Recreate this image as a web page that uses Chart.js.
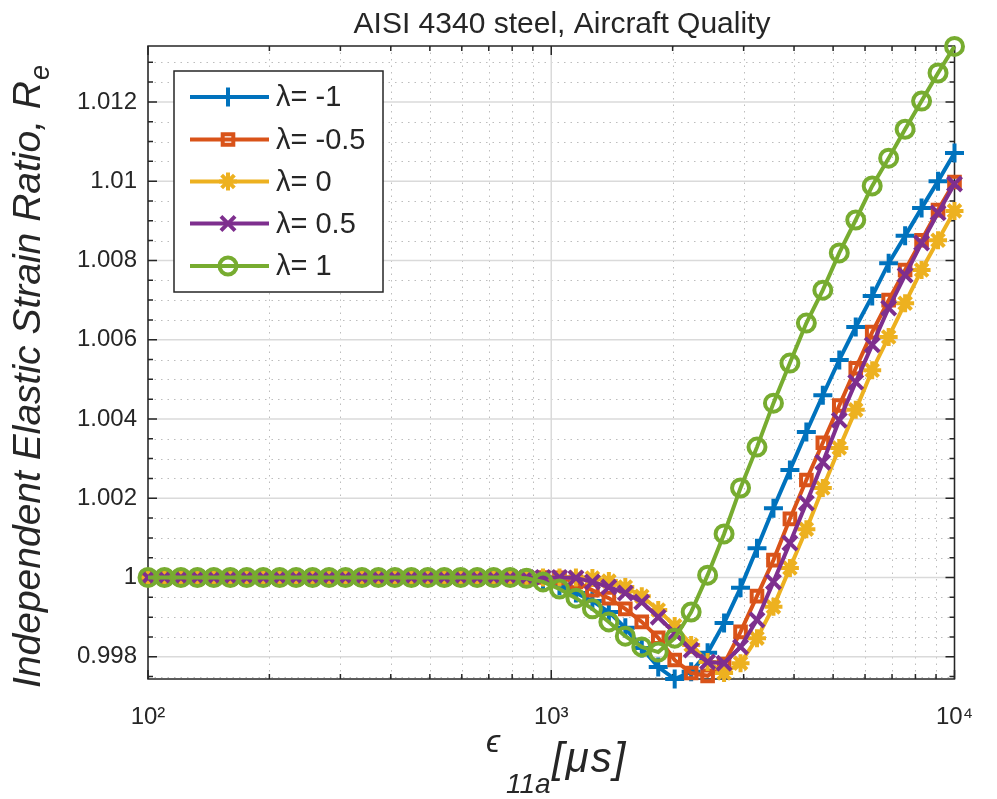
<!DOCTYPE html>
<html>
<head>
<meta charset="utf-8">
<script src="https://cdn.jsdelivr.net/npm/chart.js@4.4.1/dist/chart.umd.min.js"></script>
<style>
  html, body { margin: 0; padding: 0; background: #fff; }
  canvas { display: block; }
</style>
</head>
<body>
<canvas id="chart" width="997" height="799"></canvas>
<script>
// strain amplitude eps_11a [µs], log spaced 1e2 .. 1e4
const strain = [
  100, 109.85, 120.68, 132.57, 145.63, 159.98, 175.75, 193.07, 212.09, 232.99,
  255.95, 281.17, 308.88, 339.32, 372.76, 409.49, 449.84, 494.17, 542.87, 596.36,
  655.13, 719.69, 790.60, 868.51, 954.09, 1048.1, 1151.4, 1264.9, 1389.5, 1526.4,
  1676.8, 1842.1, 2023.6, 2223.0, 2442.1, 2682.7, 2947.1, 3237.5, 3556.5, 3906.9,
  4291.9, 4714.9, 5179.5, 5689.9, 6250.6, 6866.5, 7543.1, 8286.4, 9103.0, 10000
];

// Re for each lambda
const reLamM1 = [
  1, 1, 1, 1, 1, 1, 1, 1, 1, 1, 1, 1, 1, 1, 1, 1, 1, 1, 1, 1, 1, 1, 1,
  0.99999, 0.99991, 0.99979, 0.99961, 0.99941, 0.99913, 0.99873, 0.99822, 0.99774, 0.99744,
  0.99762, 0.99810, 0.99885, 0.99974, 1.00074, 1.00175, 1.00271, 1.00367, 1.00460, 1.00549,
  1.00632, 1.00710, 1.00793, 1.00862, 1.00932, 1.01000, 1.01071
];
const reLamM05 = [
  1, 1, 1, 1, 1, 1, 1, 1, 1, 1, 1, 1, 1, 1, 1, 1, 1, 1, 1, 1, 1, 1, 1, 1, 1,
  0.99999, 0.99989, 0.99968, 0.99948, 0.99921, 0.99888, 0.99848, 0.99792, 0.99759, 0.99752,
  0.99782, 0.99863, 0.99953, 1.00044, 1.00148, 1.00246, 1.00340, 1.00434, 1.00528, 1.00619,
  1.00700, 1.00776, 1.00851, 1.00927, 1.00998
];
const reLam0 = [
  1, 1, 1, 1, 1, 1, 1, 1, 1, 1, 1, 1, 1, 1, 1, 1, 1, 1, 1, 1, 1, 1, 1, 1, 1, 1, 1,
  0.99999, 0.99991, 0.99976, 0.99953, 0.99918, 0.99878, 0.99830, 0.99787, 0.99759, 0.99784,
  0.99847, 0.99926, 1.00024, 1.00122, 1.00226, 1.00327, 1.00423, 1.00523, 1.00607, 1.00692,
  1.00776, 1.00851, 1.00925
];
const reLam05 = [
  1, 1, 1, 1, 1, 1, 1, 1, 1, 1, 1, 1, 1, 1, 1, 1, 1, 1, 1, 1, 1, 1, 1, 1, 1, 1,
  0.99999, 0.99989, 0.99976, 0.99961, 0.99938, 0.99900, 0.99860, 0.99817, 0.99787, 0.99784,
  0.99825, 0.99893, 0.99989, 1.00087, 1.00188, 1.00291, 1.00397, 1.00493, 1.00587, 1.00680,
  1.00763, 1.00844, 1.00920, 1.00993
];
const reLam1 = [
  1, 1, 1, 1, 1, 1, 1, 1, 1, 1, 1, 1, 1, 1, 1, 1, 1, 1, 1, 1, 1, 1, 1,
  0.99998, 0.99989, 0.99971, 0.99948, 0.99921, 0.99888, 0.99852, 0.99825, 0.99812, 0.99847,
  0.99913, 1.00006, 1.00110, 1.00226, 1.00329, 1.00440, 1.00541, 1.00642, 1.00725, 1.00819,
  1.00902, 1.00988, 1.01058, 1.01131, 1.01202, 1.01273, 1.01340
];

const seriesNames = ['λ= -1', 'λ= -0.5', 'λ= 0', 'λ= 0.5', 'λ= 1'];
const seriesValues = [reLamM1, reLamM05, reLam0, reLam05, reLam1];
const seriesColors = ['#0072BD', '#D95319', '#EDB120', '#7E2F8E', '#77AC30'];
const seriesMarkers = ['cross', 'rect', 'star', 'crossRot', 'circle'];
const markerSizes = [9.5, 7.5, 9, 10, 8.5];

const xTicks = [100, 1000, 10000];
const xTickLabels = ['10²', '10³', '10⁴'];
const yTicks = [0.998, 1, 1.002, 1.004, 1.006, 1.008, 1.01, 1.012];
const yTickLabels = ['0.998', '1', '1.002', '1.004', '1.006', '1.008', '1.01', '1.012'];

const FONT = '"Liberation Sans", Arial, "DejaVu Sans", sans-serif';
const AXIS_COLOR = '#262626';

function minorX() {
  const out = [];
  [100, 1000].forEach(d => { for (let k = 2; k <= 9; k++) out.push(d * k); });
  return out;
}
function minorY(scale) {
  const out = [];
  for (let k = Math.ceil(scale.min / 0.0005); k * 0.0005 <= scale.max; k++) {
    if (k % 4 !== 0) out.push(k * 0.0005);
  }
  return out;
}

// grid, box and ticks in matlab style, plus title / labels / legend
const matlabAxes = {
  id: 'matlabAxes',
  beforeDatasetsDraw(chart) {
    const { ctx, chartArea: a, scales: { x, y } } = chart;
    ctx.save();
    // minor grid (dotted)
    ctx.strokeStyle = '#bdbdbd';
    ctx.lineWidth = 1;
    ctx.setLineDash([1.5, 5]);
    ctx.beginPath();
    minorX().forEach(v => {
      const px = Math.round(x.getPixelForValue(v)) + 0.5;
      ctx.moveTo(px, a.top); ctx.lineTo(px, a.bottom);
    });
    minorY(y).forEach(v => {
      const py = Math.round(y.getPixelForValue(v)) + 0.5;
      ctx.moveTo(a.left, py); ctx.lineTo(a.right, py);
    });
    ctx.stroke();
    // major grid
    ctx.setLineDash([]);
    ctx.strokeStyle = '#dadada';
    ctx.lineWidth = 1.5;
    ctx.beginPath();
    xTicks.forEach(v => {
      const px = x.getPixelForValue(v);
      ctx.moveTo(px, a.top); ctx.lineTo(px, a.bottom);
    });
    yTicks.forEach(v => {
      const py = y.getPixelForValue(v);
      ctx.moveTo(a.left, py); ctx.lineTo(a.right, py);
    });
    ctx.stroke();
    // box
    ctx.strokeStyle = AXIS_COLOR;
    ctx.lineWidth = 1.5;
    ctx.strokeRect(a.left, a.top, a.right - a.left, a.bottom - a.top);
    // ticks on all sides, pointing in
    ctx.beginPath();
    const tickX = (v, len) => {
      const px = x.getPixelForValue(v);
      ctx.moveTo(px, a.bottom); ctx.lineTo(px, a.bottom - len);
      ctx.moveTo(px, a.top); ctx.lineTo(px, a.top + len);
    };
    const tickY = (v, len) => {
      const py = y.getPixelForValue(v);
      ctx.moveTo(a.left, py); ctx.lineTo(a.left + len, py);
      ctx.moveTo(a.right, py); ctx.lineTo(a.right - len, py);
    };
    xTicks.forEach(v => tickX(v, 9));
    minorX().forEach(v => tickX(v, 5));
    yTicks.forEach(v => tickY(v, 9));
    minorY(y).forEach(v => tickY(v, 5));
    ctx.stroke();
    ctx.restore();
  },
  afterDraw(chart) {
    const ctx = chart.ctx;
    ctx.save();
    ctx.fillStyle = AXIS_COLOR;

    // title
    ctx.font = '30px ' + FONT;
    ctx.textAlign = 'center';
    ctx.textBaseline = 'alphabetic';
    ctx.fillText('AISI 4340 steel, Aircraft Quality', 562, 33);

    // x label: eps_11a [mu s]
    ctx.textAlign = 'left';
    ctx.font = 'italic 32px ' + FONT;
    ctx.fillText('ϵ', 486, 752);
    ctx.font = 'italic 28px ' + FONT;
    ctx.fillText('11a', 506, 793);
    ctx.font = 'italic 42px ' + FONT;
    ctx.letterSpacing = '2px';
    ctx.fillText('[μs]', 552, 772);
    ctx.letterSpacing = '0px';

    // y label
    ctx.save();
    ctx.translate(40, 688);
    ctx.rotate(-Math.PI / 2);
    ctx.font = 'italic 39px ' + FONT;
    const main = 'Independent Elastic Strain Ratio, R';
    ctx.fillText(main, 0, 0);
    const w = ctx.measureText(main).width;
    ctx.font = 'italic 27px ' + FONT;
    ctx.fillText('e', w + 1, 9);
    ctx.restore();

    // legend
    const box = { l: 174, t: 71, r: 383, b: 292 };
    ctx.fillStyle = '#fff';
    ctx.fillRect(box.l, box.t, box.r - box.l, box.b - box.t);
    ctx.strokeStyle = AXIS_COLOR;
    ctx.lineWidth = 1.5;
    ctx.strokeRect(box.l, box.t, box.r - box.l, box.b - box.t);
    const rowY = [97, 139.5, 181.5, 223.5, 266];
    seriesNames.forEach((name, i) => {
      const yy = rowY[i];
      ctx.strokeStyle = seriesColors[i];
      ctx.lineWidth = 4;
      ctx.beginPath();
      ctx.moveTo(190, yy); ctx.lineTo(269, yy);
      ctx.stroke();
      ctx.fillStyle = 'rgba(0,0,0,0)';
      ctx.lineWidth = 4;
      Chart.helpers.drawPoint(ctx, {
        pointStyle: seriesMarkers[i], radius: markerSizes[i], borderWidth: 4, rotation: 0
      }, 228, yy);
      ctx.fillStyle = AXIS_COLOR;
      ctx.font = '29px ' + FONT;
      ctx.textAlign = 'left';
      ctx.textBaseline = 'middle';
      ctx.fillText(name, 276, yy + 1);
    });
    ctx.restore();
  }
};

const datasets = seriesValues.map((vals, i) => ({
  label: seriesNames[i],
  data: strain.map((s, k) => ({ x: s, y: vals[k] })),
  borderColor: seriesColors[i],
  backgroundColor: 'rgba(0,0,0,0)',
  borderWidth: 4,
  pointStyle: seriesMarkers[i],
  pointRadius: markerSizes[i],
  pointBorderWidth: 4,
  pointBorderColor: seriesColors[i],
  pointBackgroundColor: 'rgba(0,0,0,0)',
  tension: 0,
  clip: false,
  order: seriesNames.length - i
}));

new Chart(document.getElementById('chart'), {
  type: 'line',
  data: { datasets },
  options: {
    responsive: false,
    animation: false,
    devicePixelRatio: 1,
    layout: { padding: { left: 0, right: 21, top: 46, bottom: 0 } },
    plugins: {
      legend: { display: false },
      tooltip: { enabled: false },
      title: { display: false }
    },
    scales: {
      x: {
        type: 'logarithmic',
        min: 100,
        max: 10000,
        grid: { display: false, drawTicks: false },
        border: { display: false },
        afterBuildTicks: s => { s.ticks = xTicks.map(v => ({ value: v })); },
        afterFit: s => { s.height = 120; },
        ticks: {
          autoSkip: false,
          maxRotation: 0,
          padding: 24,
          color: AXIS_COLOR,
          font: { family: FONT, size: 24 },
          callback: (v, i) => xTickLabels[i]
        }
      },
      y: {
        type: 'linear',
        min: 0.99744,
        max: 1.01341,
        grid: { display: false, drawTicks: false },
        border: { display: false },
        afterBuildTicks: s => { s.ticks = yTicks.map(v => ({ value: v })); },
        afterFit: s => { s.width = 148; },
        ticks: {
          autoSkip: false,
          padding: 11,
          color: AXIS_COLOR,
          font: { family: FONT, size: 24 },
          callback: (v, i) => yTickLabels[i]
        }
      }
    }
  },
  plugins: [matlabAxes]
});
</script>
</body>
</html>
